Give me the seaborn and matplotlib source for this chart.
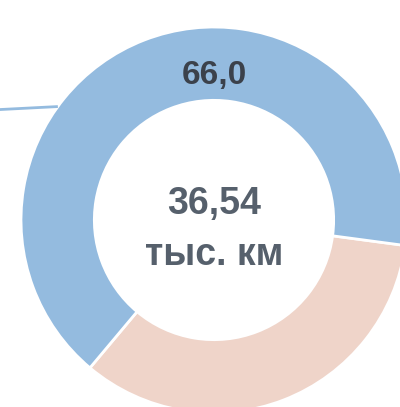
import numpy as np
import matplotlib
matplotlib.use("Agg")
import matplotlib.pyplot as plt
import seaborn as sns

# Data
categories = ["Прочие", "Основные"]
shares = [34.0, 66.0]
share_labels = ["", "66,0"]
total_value = "36,54"
total_unit = "тыс. км"
colors = ["#efd4c9", "#94bbdf"]

sns.set_theme(style="white")
plt.rcParams["font.family"] = ["Liberation Sans", "DejaVu Sans"]

fig = plt.figure(figsize=(4, 4.07), dpi=100)
ax = fig.add_axes([0, 0, 1, 1])

# ring geometry (pixels of the cropped frame)
cx, cy, r_px = 214, 220, 193
ring_w = 0.38

wedges, _ = ax.pie(shares, colors=colors, startangle=-130, counterclock=True,
                   radius=1.0, wedgeprops=dict(width=ring_w, edgecolor="white", linewidth=2))

# value label on top of the blue ring
rl = 1 - ring_w / 2
ax.text(0, rl - 0.06, share_labels[1], ha="center", va="center",
        fontsize=24, fontweight="bold", color="#3b414b")

# center text
ax.text(0, 0.085, total_value, ha="center", va="center", fontsize=27,
        fontweight="bold", color="#56606c")
ax.text(0, -0.18, total_unit, ha="center", va="center", fontsize=27,
        fontweight="bold", color="#56606c")

# leader line to an off-frame label
a = np.deg2rad(144)
x0, y0 = np.cos(a), np.sin(a)
ax.plot([x0, x0 - 0.31], [y0, y0 - 0.016], color="#94bbdf", lw=2, solid_capstyle="butt")

ax.set_xlim(-cx / r_px, (400 - cx) / r_px)
ax.set_ylim(-(407 - cy) / r_px, cy / r_px)
ax.set_aspect("auto")
ax.axis("off")

fig.savefig("out.png", dpi=100)
